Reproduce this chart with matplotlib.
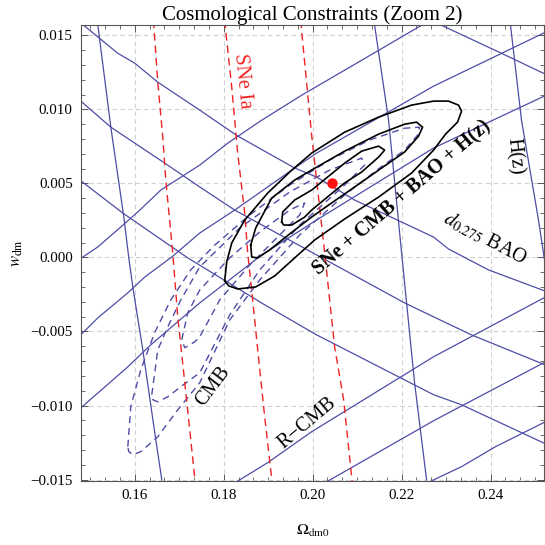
"""
Cosmological constraints (zoom 2): Omega_dm0 vs w_dm
SNe Ia, CMB, R-CMB, BAO and H(z) contours with the joint fit
"""

import matplotlib
matplotlib.use('Agg')
import matplotlib.pyplot as plt
from matplotlib.ticker import MultipleLocator, AutoMinorLocator

plt.rcParams['font.family'] = ['Liberation Serif', 'DejaVu Serif']
plt.rcParams['mathtext.fontset'] = 'stix'

# ---- SNe Ia contours (red dashed), (Omega_dm0, w_dm) points ----
sne_a_x = [0.1642, 0.16517, 0.16629, 0.16697, 0.16854, 0.16966, 0.17124, 0.1737]
sne_a_y = [0.0160, 0.01184, 0.00813, 0.00523, 0.00030, -0.00401, -0.00847, -0.0155]
sne_b_x = [0.1802, 0.18180, 0.18314, 0.18472, 0.18539, 0.18651, 0.18764, 0.18921, 0.1910]
sne_b_y = [0.0160, 0.01150, 0.00705, 0.00300, 0.00030, -0.00287, -0.00624, -0.01076, -0.0155]
sne_c_x = [0.1973, 0.19977, 0.20270, 0.20494, 0.20696, 0.2090]
sne_c_y = [0.0160, 0.00826, 0.00030, -0.00604, -0.00961, -0.0155]

# ---- H(z) contours (steep solid) ----
hz_1_x = [0.15169, 0.15461, 0.15753, 0.15865, 0.15955, 0.16180, 0.16472, 0.16607]
hz_1_y = [0.01568, 0.00880, 0.00273, -0.00003, -0.00199, -0.00624, -0.01231, -0.01501]
hz_2_x = [0.21393, 0.21707, 0.22000, 0.22112, 0.22292, 0.22561]
hz_2_y = [0.01568, 0.00927, 0.00030, -0.00307, -0.00847, -0.01501]
hz_3_x = [0.24449, 0.24696, 0.25078, 0.25190, 0.2528]
hz_3_y = [0.01568, 0.00927, 0.00253, 0.00030, -0.00152]

# ---- d_0.275 BAO contours (falling solid) ----
bao_0_x = [0.2265, 0.22898, 0.24246, 0.25190]
bao_0_y = [0.0160, 0.01568, 0.01379, 0.01244]
bao_1_x = [0.1472, 0.15618, 0.16, 0.16517, 0.17461, 0.18314, 0.19595, 0.20089,
           0.20943, 0.22718, 0.23055, 0.23954, 0.2528]
bao_1_y = [0.0160, 0.01379, 0.01312, 0.01184, 0.00995, 0.00820, 0.00604, 0.00543,
           0.00388, 0.00138, 0.00057, -0.00084, -0.00233]
bao_2_x = [0.14764, 0.15461, 0.16674, 0.17461, 0.18247, 0.20089, 0.22067, 0.22718,
           0.23572, 0.2528]
bao_2_y = [0.01062, 0.00880, 0.00637, 0.00476, 0.00320, 0.00017, -0.00307, -0.00401,
           -0.00523, -0.00732]
bao_3_x = [0.14764, 0.15730, 0.17191, 0.18921, 0.20089, 0.22718, 0.23348, 0.2528]
bao_3_y = [0.00523, 0.00300, -0.00003, -0.00320, -0.00523, -0.00927, -0.00995, -0.01265]

# ---- R-CMB contours (rising solid) ----
rcmb_1_x = [0.14697, 0.15169, 0.15685, 0.16067, 0.16584, 0.17461, 0.18090, 0.18854,
            0.19753, 0.20719, 0.2263]
rcmb_1_y = [-0.00024, 0.00071, 0.00206, 0.00307, 0.00455, 0.00624, 0.00772, 0.00927,
            0.01096, 0.01265, 0.0160]
rcmb_2_x = [0.14764, 0.15169, 0.15843, 0.16225, 0.16831, 0.17461, 0.18247, 0.19595,
            0.20089, 0.22718, 0.2528]
rcmb_2_y = [-0.00529, -0.00408, -0.00239, -0.00132, 0.00003, 0.00165, 0.00320, 0.00604,
            0.00705, 0.01157, 0.01528]
rcmb_3_x = [0.14764, 0.15843, 0.16360, 0.17461, 0.18854, 0.20089, 0.22718, 0.2528]
rcmb_3_y = [-0.01022, -0.00739, -0.00590, -0.00307, 0.00017, 0.00253, 0.00739, 0.01100]
rcmb_4_x = [0.1818, 0.18989, 0.19977, 0.22718, 0.2528]
rcmb_4_y = [-0.01535, -0.01386, -0.01177, -0.00671, -0.0026]
rcmb_5_x = [0.2020, 0.22718, 0.2528]
rcmb_5_y = [-0.01535, -0.01103, -0.00698]
rcmb_6_x = [0.2249, 0.23348, 0.24112, 0.2528]
rcmb_6_y = [-0.01535, -0.01413, -0.01278, -0.01103]

# ---- CMB contours (blue dashed, closed) ----
cmb_out_x = [0.15843, 0.15910, 0.16135, 0.16449, 0.16809, 0.17258, 0.17798, 0.18584,
             0.19483, 0.20382, 0.21280, 0.22067, 0.22404, 0.22359, 0.22067, 0.21505,
             0.20719, 0.19708, 0.18809, 0.18135, 0.17461, 0.16966, 0.16517, 0.16135,
             0.15955, 0.15865]
cmb_out_y = [-0.01278, -0.01008, -0.00759, -0.00506, -0.00287, -0.00084, 0.00084, 0.00287,
             0.00489, 0.00658, 0.00793, 0.00873, 0.00880, 0.00826, 0.00725, 0.00604,
             0.00422, 0.00152, -0.00152, -0.00422, -0.00846, -0.01029, -0.01211, -0.01312,
             -0.01332, -0.01312]
cmb_mid_x = [0.16382, 0.16517, 0.16742, 0.17034, 0.17461, 0.18359, 0.19483, 0.20382,
             0.21101, 0.21168, 0.20719, 0.19708, 0.18809, 0.18135, 0.17461, 0.17034,
             0.16742, 0.16517, 0.16404]
cmb_mid_y = [-0.00927, -0.00624, -0.00469, -0.00287, -0.00064, 0.00199, 0.00442, 0.00590,
             0.00671, 0.00624, 0.00489, 0.00219, -0.00084, -0.00388, -0.00779, -0.00873,
             -0.00941, -0.00975, -0.00961]
cmb_in_x = [0.17056, 0.17191, 0.17461, 0.18135, 0.18809, 0.19483, 0.19820, 0.19708,
            0.19258, 0.18584, 0.17910, 0.17461, 0.17348, 0.17124]
cmb_in_y = [-0.00556, -0.00374, -0.00219, -0.00003, 0.00172, 0.00320, 0.00368, 0.00287,
            0.00152, -0.00051, -0.00287, -0.00536, -0.00570, -0.00610]

# ---- joint SNe + CMB + BAO + H(z) contours (black, closed) ----
joint_out_x = [0.18022, 0.18067, 0.18180, 0.18472, 0.18989, 0.19483, 0.19977, 0.20719,
               0.21483, 0.22224, 0.22718, 0.23055, 0.23280, 0.23348, 0.23258, 0.22988,
               0.22718, 0.22224, 0.21483, 0.20719, 0.20045, 0.19595, 0.19146, 0.18719,
               0.18314, 0.18112]
joint_out_y = [-0.00158, -0.00030, 0.00098, 0.00253, 0.00435, 0.00577, 0.00705, 0.00846,
               0.00948, 0.01029, 0.01056, 0.01056, 0.01029, 0.00988, 0.00914, 0.00833,
               0.00725, 0.00570, 0.00408, 0.00260, 0.00118, -0.00003, -0.00125, -0.00199,
               -0.00213, -0.00192]
joint_mid_x = [0.18607, 0.18719, 0.19078, 0.19595, 0.20089, 0.20719, 0.21483, 0.22067,
               0.22337, 0.22472, 0.22382, 0.22067, 0.21483, 0.21101, 0.20359, 0.19977,
               0.19483, 0.19033, 0.18764, 0.18629]
joint_mid_y = [0.00084, 0.00199, 0.00401, 0.00523, 0.00610, 0.00718, 0.00833, 0.00900,
               0.00914, 0.00880, 0.00820, 0.00712, 0.00590, 0.00509, 0.00354, 0.00273,
               0.00159, 0.00051, -0.00003, 0.00003]
joint_in_x = [0.19303, 0.19326, 0.19595, 0.19977, 0.20719, 0.21101, 0.21483, 0.21618,
              0.21483, 0.21101, 0.20719, 0.20359, 0.19977, 0.19820, 0.19528, 0.19348]
joint_in_y = [0.00239, 0.00307, 0.00388, 0.00455, 0.00637, 0.00718, 0.00752, 0.00725,
              0.00678, 0.00577, 0.00503, 0.00415, 0.00320, 0.00273, 0.00219, 0.00219]

# best fit point
best_x = [0.2043]
best_y = [0.0050]

BLUE = '#4d4da6'
RED = '#ee2222'
LABEL_SIZE = 14.5


def closed(xs, ys):
    return list(xs) + [xs[0]], list(ys) + [ys[0]]


fig = plt.figure(figsize=(5.45, 5.45), dpi=100)
ax = fig.add_axes([0.1486, 0.1174, 0.8494, 0.8367])

# grid
ax.grid(True, color='#d0d0d0', linestyle=(0, (4, 3)), linewidth=0.8)
ax.set_axisbelow(True)

# solid blue constraint curves
for xs, ys in [(hz_1_x, hz_1_y), (hz_2_x, hz_2_y), (hz_3_x, hz_3_y),
               (bao_0_x, bao_0_y), (bao_1_x, bao_1_y), (bao_2_x, bao_2_y), (bao_3_x, bao_3_y),
               (rcmb_1_x, rcmb_1_y), (rcmb_2_x, rcmb_2_y), (rcmb_3_x, rcmb_3_y),
               (rcmb_4_x, rcmb_4_y), (rcmb_5_x, rcmb_5_y), (rcmb_6_x, rcmb_6_y)]:
    ax.plot(xs, ys, color=BLUE, linewidth=0.9)

# CMB dashed
for xs, ys in [(cmb_out_x, cmb_out_y), (cmb_mid_x, cmb_mid_y), (cmb_in_x, cmb_in_y)]:
    cx, cy = closed(xs, ys)
    ax.plot(cx, cy, color=BLUE, linewidth=1.0, linestyle=(0, (5, 3.5)))

# SNe dashed
for xs, ys in [(sne_a_x, sne_a_y), (sne_b_x, sne_b_y), (sne_c_x, sne_c_y)]:
    ax.plot(xs, ys, color=RED, linewidth=1.0, linestyle=(0, (5.5, 3.5)))

# joint contours
for xs, ys in [(joint_out_x, joint_out_y), (joint_mid_x, joint_mid_y), (joint_in_x, joint_in_y)]:
    cx, cy = closed(xs, ys)
    ax.plot(cx, cy, color='black', linewidth=1.2)

ax.plot(best_x, best_y, 'o', color='#ff1010', markersize=6.5, zorder=6)

# labels on the curves
ax.text(0.1843, 0.0119, 'SNe Ia', color=RED, fontsize=LABEL_SIZE, rotation=-84,
        ha='center', va='center')
ax.text(0.2454, 0.0068, 'H(z)', color='black', fontsize=LABEL_SIZE, rotation=-84,
        ha='center', va='center')
ax.text(0.2389, 0.0013, r'$d_{0.275}$ BAO', color='black', fontsize=LABEL_SIZE, rotation=-28,
        ha='center', va='center')
ax.text(0.2202, 0.0040, 'SNe + CMB + BAO + H(z)', color='black', fontsize=LABEL_SIZE,
        fontweight='bold', rotation=40.6, ha='center', va='center')
ax.text(0.1775, -0.0087, 'CMB', color='black', fontsize=LABEL_SIZE, rotation=53,
        ha='center', va='center')
ax.text(0.1987, -0.0112, 'R\u2212CMB', color='black', fontsize=LABEL_SIZE, rotation=40,
        ha='center', va='center')

ax.set_xlim(0.1479, 0.2520)
ax.set_ylim(-0.0151, 0.0157)

ax.xaxis.set_major_locator(MultipleLocator(0.02))
ax.xaxis.set_minor_locator(AutoMinorLocator(6))
ax.yaxis.set_major_locator(MultipleLocator(0.005))
ax.yaxis.set_minor_locator(MultipleLocator(0.001))
ax.xaxis.set_major_formatter(plt.FuncFormatter(lambda v, p: f'{v:.2f}'))
ax.yaxis.set_major_formatter(plt.FuncFormatter(lambda v, p: f'{v:.3f}'.replace('-', '\u2212')))

ax.tick_params(which='both', direction='in', top=True, right=True, labelsize=10.8,
               color='#555555')
ax.tick_params(which='major', length=5, width=0.7, pad=6)
ax.tick_params(which='minor', length=2.8, width=0.6)
for sp in ax.spines.values():
    sp.set_color('#555555')
    sp.set_linewidth(0.8)

ax.set_title('Cosmological Constraints (Zoom 2)', fontsize=15, pad=2)
ax.set_xlabel(r'$\Omega_{\rm dm0}$', fontsize=11.5, labelpad=15)
ax.set_ylabel(r'$w_{\rm dm}$', fontsize=12, labelpad=4)

plt.savefig('out.png', dpi=100)
